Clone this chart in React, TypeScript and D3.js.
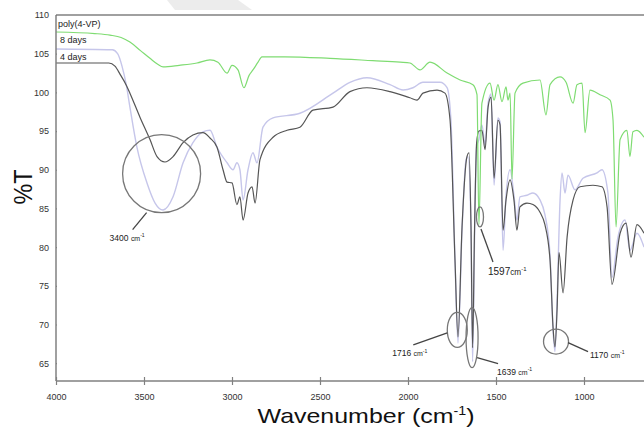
import React, { useRef, useEffect } from "react";
import * as d3 from "d3";

const W = 644;
const H = 431;

// [wavenumber cm-1, %T]
const polyVP: [number, number][] = [
  [4000, 107.8], [3780, 107.6], [3693, 107.4], [3630, 107.1], [3580, 106.5], [3520, 105.4],
  [3466, 104.4], [3420, 103.6], [3392, 103.3], [3300, 103.5], [3199, 103.8],
  [3125, 104.2], [3080, 103.9], [3028, 102.5], [3000, 103.5], [2966, 102.9], [2932, 100.6],
  [2903, 102.2], [2881, 102.9], [2852, 103.9], [2830, 104.6], [2700, 104.6], [2443, 104.4],
  [2200, 104.1], [2045, 103.9], [1989, 103.8], [1932, 102.9], [1875, 103.9], [1778, 102.5],
  [1704, 101.6], [1631, 101.0], [1608, 99.7], [1597, 82.9], [1580, 98.6], [1534, 101.2],
  [1511, 99.0], [1489, 101.0], [1466, 98.8], [1443, 100.7], [1432, 99.0], [1420, 99.9],
  [1409, 88.8], [1392, 99.9], [1347, 101.2], [1250, 101.6], [1216, 97.1], [1193, 101.0],
  [1136, 102.0], [1102, 101.3], [1062, 98.6], [1040, 101.0], [1011, 101.2], [994, 94.8],
  [966, 100.3], [909, 99.7], [852, 99.0], [835, 96.4], [818, 82.6], [795, 93.9], [756, 95.1],
  [739, 91.7], [722, 94.9], [699, 95.1], [659, 94.2],
];

const eightDays: [number, number][] = [
  [4000, 105.6], [3680, 105.5], [3650, 105.0], [3625, 103.4], [3600, 100.9], [3580, 98.1],
  [3540, 92.9], [3483, 88.3],
  [3437, 85.7], [3392, 84.8], [3335, 86.5], [3278, 90.9], [3222, 93.5], [3165, 94.9],
  [3125, 95.1], [3085, 92.9], [3028, 90.9], [2994, 90.0], [2972, 90.9], [2955, 90.0],
  [2937, 86.1], [2909, 90.0], [2881, 92.2], [2858, 90.9], [2824, 95.5], [2767, 96.7],
  [2614, 97.3], [2426, 99.9], [2330, 101.3], [2233, 101.9], [2102, 101.0], [2028, 100.3],
  [1972, 100.6], [1915, 101.3], [1818, 101.3], [1778, 100.6], [1756, 96.4], [1733, 78.3],
  [1716, 67.6], [1693, 82.2], [1670, 91.3], [1659, 91.7], [1642, 82.2], [1633, 65.2],
  [1622, 80.9], [1610, 93.0], [1597, 93.9], [1580, 95.8], [1562, 93.2], [1545, 98.6],
  [1528, 99.8], [1511, 88.0], [1489, 96.7], [1477, 96.2], [1460, 79.6], [1443, 86.7],
  [1420, 90.0], [1398, 86.7], [1381, 83.5], [1364, 86.5], [1324, 86.7], [1290, 87.0],
  [1250, 86.1], [1222, 84.2], [1193, 79.0], [1176, 69.3], [1165, 66.5], [1153, 73.2],
  [1136, 86.1], [1125, 89.6], [1108, 87.0], [1091, 89.3], [1051, 87.4], [1006, 88.9],
  [926, 89.6], [898, 90.0], [864, 87.0], [841, 76.1], [807, 81.3], [767, 83.5],
  [739, 79.6], [699, 81.8], [659, 80.0],
];

const fourDays: [number, number][] = [
  [4000, 103.8], [3700, 103.8], [3665, 103.4], [3635, 102.3], [3600, 100.9], [3580, 99.9],
  [3523, 96.8], [3466, 93.9],
  [3426, 91.7], [3381, 91.0], [3335, 91.7], [3278, 93.5], [3222, 94.5], [3165, 94.8],
  [3125, 94.1], [3085, 92.9], [3051, 90.0], [3028, 88.4], [3000, 88.3], [2972, 85.5],
  [2955, 86.5], [2937, 83.5], [2909, 87.0], [2886, 87.8], [2869, 85.7], [2841, 91.3],
  [2767, 94.2], [2687, 95.1], [2614, 95.5], [2540, 97.7], [2426, 98.1], [2330, 100.1],
  [2233, 100.6], [2102, 100.1], [1989, 99.3], [1949, 99.0], [1915, 99.9], [1835, 100.3],
  [1790, 99.9], [1761, 96.4], [1733, 78.3], [1716, 68.4], [1693, 82.6], [1665, 91.7],
  [1653, 92.2], [1642, 82.6], [1633, 67.0], [1622, 82.2], [1610, 93.5], [1597, 95.0],
  [1580, 95.1], [1562, 92.6], [1545, 98.1], [1528, 99.4], [1511, 88.9], [1489, 96.4],
  [1477, 95.8], [1460, 82.2], [1443, 86.1], [1420, 88.7], [1398, 86.1], [1381, 82.2],
  [1364, 85.2], [1324, 85.7], [1290, 85.5], [1250, 84.5], [1222, 82.9], [1193, 78.3],
  [1176, 69.7], [1165, 67.1], [1153, 71.9], [1142, 79.3], [1119, 74.1], [1096, 81.3],
  [1062, 86.1], [1023, 87.8], [949, 88.0], [898, 87.8], [869, 85.2], [841, 75.2],
  [795, 81.8], [761, 83.1], [733, 78.7], [699, 82.9], [659, 81.8],
];

const seriesNames = ["poly(4-VP)", "8 days", "4 days"];
const xTicks = [4000, 3500, 3000, 2500, 2000, 1500, 1000];
const yTicks = [65, 70, 75, 80, 85, 90, 95, 100, 105, 110];

// band labels and where their marker sits (wavenumber, %T)
const bandLabels = ["3400", "1716", "1639", "1597", "1170"];
const bandCenters: [number, number][] = [
  [3400, 89.5], [1720, 69.3], [1636, 68.3], [1591, 83.9], [1159, 67.8],
];

const FONT = "'Liberation Sans', Arial, sans-serif";

export default function App() {
  const ref = useRef<SVGSVGElement>(null);

  useEffect(() => {
    const svg = d3.select(ref.current);
    svg.selectAll("*").remove();

    const x = d3.scaleLinear().domain([4000, 1000]).range([56, 584]);
    const y = d3.scaleLinear().domain([62.7, 110]).range([381, 15]);

    // faint watermark shape at the very top
    svg.append("polygon")
      .attr("points", "167,0 238,0 252,10 175,10")
      .attr("fill", "#ececec");

    svg.append("defs").append("clipPath").attr("id", "plot")
      .append("rect").attr("x", 56).attr("y", 0).attr("width", W - 56).attr("height", 381);

    const line = d3.line<[number, number]>()
      .x((d) => x(d[0]))
      .y((d) => y(d[1]))
      .curve(d3.curveMonotoneX);

    const lines = svg.append("g").attr("clip-path", "url(#plot)");
    const series: { data: [number, number][]; color: string; w: number }[] = [
      { data: eightDays, color: "#c6c6ea", w: 1.4 },
      { data: fourDays, color: "#555555", w: 1.2 },
      { data: polyVP, color: "#7fdc72", w: 1.2 },
    ];
    series.forEach((s) => {
      lines.append("path")
        .attr("d", line(s.data))
        .attr("fill", "none")
        .attr("stroke", s.color)
        .attr("stroke-width", s.w)
        .attr("stroke-linejoin", "round");
    });

    // frame: top border, left and bottom axes
    const axisColor = "#808080";
    svg.append("line").attr("x1", 56).attr("x2", W).attr("y1", y(110)).attr("y2", y(110))
      .attr("stroke", axisColor).attr("stroke-width", 1.5);
    svg.append("line").attr("x1", 56).attr("x2", 56).attr("y1", y(110)).attr("y2", 381)
      .attr("stroke", axisColor).attr("stroke-width", 1.5);
    svg.append("line").attr("x1", 56).attr("x2", W).attr("y1", 381).attr("y2", 381)
      .attr("stroke", axisColor).attr("stroke-width", 1.5);

    const yAxis = svg.append("g").attr("transform", "translate(56,0)")
      .call(d3.axisLeft(y).tickValues(yTicks).tickSize(4).tickPadding(3));
    yAxis.select(".domain").remove();
    yAxis.selectAll("line").attr("stroke", axisColor).attr("stroke-width", 1.2).attr("x2", 1);
    yAxis.selectAll("text").attr("font-family", FONT).attr("font-size", 9).attr("fill", "#333");

    const xAxis = svg.append("g").attr("transform", "translate(0,381)")
      .call(d3.axisBottom(x).tickValues(xTicks).tickSize(4).tickPadding(9)
        .tickFormat(d3.format("d")));
    xAxis.select(".domain").remove();
    xAxis.selectAll("line").attr("stroke", axisColor).attr("stroke-width", 1.2).attr("y1", -4);
    xAxis.selectAll("text").attr("font-family", FONT).attr("font-size", 9).attr("fill", "#333");

    // axis titles
    svg.append("text")
      .attr("transform", "translate(32,187) rotate(-90)")
      .attr("text-anchor", "middle")
      .attr("font-family", FONT).attr("font-size", 25).attr("fill", "#111")
      .attr("textLength", 35).attr("lengthAdjust", "spacingAndGlyphs")
      .text("%T");

    const xt = svg.append("text")
      .attr("x", 366).attr("y", 423)
      .attr("text-anchor", "middle")
      .attr("font-family", FONT).attr("font-size", 21).attr("fill", "#111")
      .attr("textLength", 217).attr("lengthAdjust", "spacingAndGlyphs");
    xt.append("tspan").text("Wavenumber (cm");
    xt.append("tspan").attr("font-size", 12).attr("dy", -8).text("-1");
    xt.append("tspan").attr("dy", 8).text(")");

    // legend labels
    const legendY = [27, 43, 60];
    seriesNames.forEach((n, i) => {
      svg.append("text")
        .attr("x", i === 0 ? 58 : 60).attr("y", legendY[i])
        .attr("font-family", FONT).attr("font-size", 9).attr("fill", "#222")
        .text(n);
    });

    // band markers
    const ann = svg.append("g").attr("stroke", "#777").attr("fill", "none");
    const shapes = [
      { rx: 39, ry: 39, l: [-15, 39, -29, 56], t: [-52, 67], size: 8.5, space: true },
      { rx: 10, ry: 17.5, l: [-10, 3, -44, 15], t: [-65, 26], size: 8.5, space: true },
      { rx: 6, ry: 30, l: [5, 20, 26, 26], t: [25, 37], size: 8.5, space: true },
      { rx: 3.5, ry: 10, l: [1, 12, 13, 45], t: [8, 58], size: 10, space: false },
      { rx: 12.5, ry: 12.5, l: [12, 1, 32, 10], t: [34, 16], size: 8.5, space: true },
    ];
    bandLabels.forEach((lab, i) => {
      const cx = x(bandCenters[i][0]);
      const cy = y(bandCenters[i][1]);
      const s = shapes[i];
      ann.append("ellipse").attr("cx", cx).attr("cy", cy).attr("rx", s.rx).attr("ry", s.ry)
        .attr("stroke-width", 1.3);
      ann.append("line")
        .attr("x1", cx + s.l[0]).attr("y1", cy + s.l[1])
        .attr("x2", cx + s.l[2]).attr("y2", cy + s.l[3])
        .attr("stroke", "#444").attr("stroke-width", 1.3);
      const t = svg.append("text")
        .attr("x", cx + s.t[0]).attr("y", cy + s.t[1])
        .attr("font-family", FONT).attr("font-size", s.size).attr("fill", "#222");
      t.append("tspan").text(lab + (s.space ? " " : ""));
      t.append("tspan").attr("font-size", s.size * 0.82).text("cm");
      t.append("tspan").attr("font-size", s.size * 0.6).attr("dy", -s.size * 0.4).text("-1");
    });
  }, []);

  return (
    <svg
      ref={ref}
      width={W}
      height={H}
      style={{ position: "absolute", left: 0, top: 0, background: "#fff" }}
    />
  );
}
